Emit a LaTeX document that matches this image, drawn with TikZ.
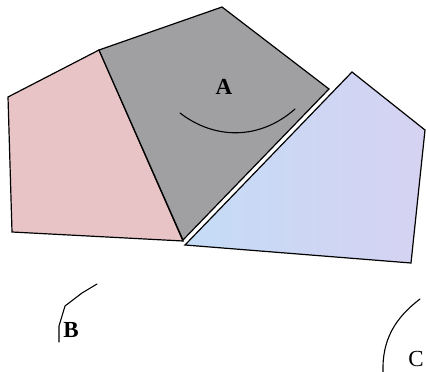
\documentclass[tikz,border=0pt]{standalone}
\usepackage{fontspec}
\setmainfont{Liberation Serif}
\usetikzlibrary{calc}
\definecolor{pinkpatch}{RGB}{232,196,198}
\definecolor{graypatch}{RGB}{160,160,162}
\definecolor{bluepatch}{RGB}{196,220,246}
\definecolor{lilacpatch}{RGB}{214,210,242}
\tikzset{
  patch/.style={draw=black,line width=1.2pt,line join=miter},
  stroke/.style={draw=black,line width=1.1pt,line cap=round},
  lbl/.style={font=\fontsize{23}{26}\selectfont\bfseries,inner sep=0pt},
  lblthin/.style={font=\fontsize{23}{26}\selectfont,inner sep=0pt}
}

\begin{document}
\begin{tikzpicture}[x=1pt,y=-1pt]
  \clip (0,0) rectangle (426,372);
  % pieces
  \filldraw[patch,fill=pinkpatch] (99,50) -- (8,97) -- (12,232) -- (183,241) -- cycle;
  \filldraw[patch,fill=graypatch] (99,50) -- (222,7) -- (329,89) -- (183,240) -- cycle;
  \shade[left color=bluepatch,right color=lilacpatch] (185,245) -- (352,72) -- (425,130) -- (411,263) -- cycle;
  \draw[patch] (185,245) -- (352,72) -- (425,130) -- (411,263) -- cycle;
  % curve on A
  \draw[stroke] (180,113) .. controls (215,140) and (260,140) .. (295,109);
  % labels
  \node[lbl] (labA) at (224,87) {A};
  \node[lbl] (labB) at (71,330) {B};
  \node[lblthin] (labC) at (416,359) {C};
  % strokes near B and C
  \draw[stroke] (59,342) -- (59,326) -- (65,306) -- (82,293) -- (97,284);
  \draw[stroke] (383,372) .. controls (382,340) and (395,318) .. (420,299);
\end{tikzpicture}
\end{document}
